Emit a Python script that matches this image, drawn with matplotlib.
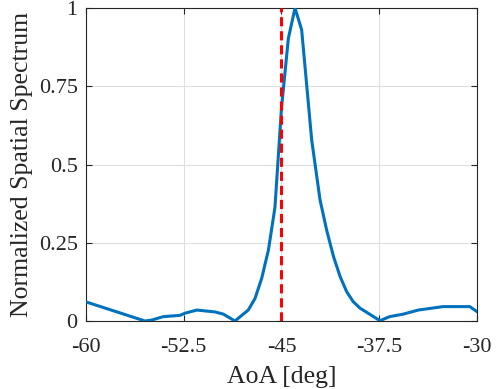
import matplotlib
matplotlib.use("Agg")
import matplotlib.pyplot as plt

aoa = [-60.0, -55.47, -54.96, -54.07, -52.79, -52.4, -51.5, -50.1, -49.46, -48.57,
       -47.55, -47.03, -46.52, -46.0, -45.5, -45.0, -44.47, -43.96, -43.45, -42.68,
       -42.04, -41.53, -41.0, -40.5, -40.0, -39.5, -38.97, -37.44, -36.7, -35.65,
       -34.5, -32.6, -30.55, -30.0]
spectrum = [0.061, 0.0, 0.003, 0.014, 0.018, 0.025, 0.035, 0.029, 0.022, 0.0,
            0.035, 0.072, 0.136, 0.227, 0.363, 0.68, 0.903, 1.0, 0.93, 0.578,
            0.387, 0.29, 0.205, 0.142, 0.094, 0.062, 0.041, 0.001, 0.014, 0.022,
            0.035, 0.046, 0.046, 0.03]
true_aoa = -45.0
xticks = [-60, -52.5, -45, -37.5, -30]
xticklabels = ["-60", "-52.5", "-45", "-37.5", "-30"]
yticks = [0, 0.25, 0.5, 0.75, 1]
yticklabels = ["0", "0.25", "0.5", "0.75", "1"]

plt.rcParams['font.family'] = ['Liberation Serif', 'DejaVu Serif']
plt.rcParams['mathtext.fontset'] = 'stix'

fig = plt.figure(figsize=(4.98, 3.89), dpi=100)
ax = fig.add_axes([0.1727, 0.1748, 0.785, 0.8046])
ax.plot(aoa, spectrum, color='#0072BD', lw=2.2, zorder=3)
ax.plot([true_aoa, true_aoa], [0, 1], color='#FF0000', lw=2.2, ls=(0, (3, 1.6)), zorder=4)
ax.set_xlim(-60, -30)
ax.set_ylim(0, 1)
ax.set_xticks(xticks)
ax.set_xticklabels(xticklabels)
ax.set_yticks(yticks)
ax.set_yticklabels(yticklabels)
ax.grid(True, color='#DFDFDF', lw=0.8)
ax.set_axisbelow(True)
ax.tick_params(direction='in', top=True, right=True, labelsize=16, length=4,
               color='#262626', labelcolor='#262626')
ax.tick_params(axis='x', pad=12)
ax.tick_params(axis='y', pad=6)
for s in ax.spines.values():
    s.set_color('#262626')
    s.set_linewidth(0.8)
ax.set_xlabel('AoA [deg]', fontsize=18.5, color='#262626', labelpad=7)
ax.set_ylabel('Normalized Spatial Spectrum', fontsize=18.5, color='#262626', labelpad=4)
fig.savefig('out.png', dpi=100)
